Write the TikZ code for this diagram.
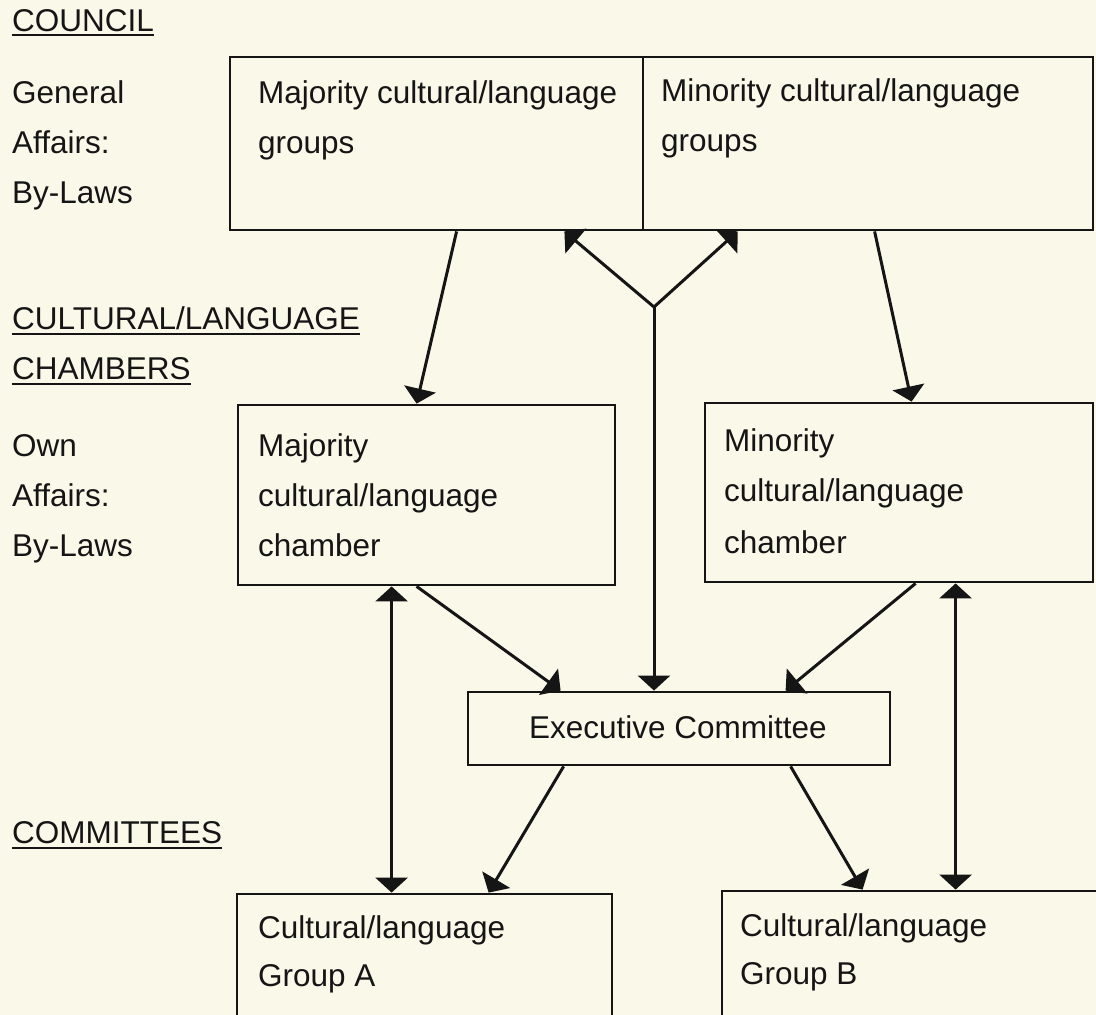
\documentclass[tikz,border=0pt]{standalone}
\usepackage{fontspec}
\setmainfont{Liberation Sans}
\usetikzlibrary{arrows.meta}
\definecolor{paper}{HTML}{FAF8E8}
\definecolor{ink}{HTML}{151515}
\begin{document}
\begin{tikzpicture}[x=1pt,y=-1pt,
  box/.style={draw=ink, line width=2.8pt, inner sep=0pt, rectangle},
  txt/.style={anchor=base west, inner sep=0pt, text=ink, font=\fontsize{31.5}{31.5}\selectfont},
  ctxt/.style={anchor=base, inner sep=0pt, text=ink, font=\fontsize{31.5}{31.5}\selectfont},
  uline/.style={draw=ink, line width=2.4pt},
  con/.style={draw=ink, line width=3pt, -{Triangle[length=15pt,width=32pt]}},
  dcon/.style={draw=ink, line width=3pt, {Triangle[length=15pt,width=32pt]}-{Triangle[length=15pt,width=32pt]}}]
\fill[paper] (0,0) rectangle (1096,1015);
\useasboundingbox (0,0) rectangle (1096,1015);
\clip (0,0) rectangle (1096,1015);

% boxes
\node[box, minimum width=413pt, minimum height=173pt] (topL) at (436.5,143.5) {};
\node[box, minimum width=450pt, minimum height=173pt] (topR) at (868,143.5) {};
\node[box, minimum width=377pt, minimum height=180pt] (midL) at (426.5,495) {};
\node[box, minimum width=388pt, minimum height=179pt] (midR) at (899,492.5) {};
\node[box, minimum width=422pt, minimum height=73pt] (exec) at (679,728.5) {};
\node[box, minimum width=375pt, minimum height=146pt] (botL) at (424.5,967) {};
\node[box, minimum width=378pt, minimum height=149pt] (botR) at (911,965.5) {};

% left headings and labels
\node[txt] (hcouncil) at (12,31) {COUNCIL};
\draw[uline] ([yshift=-4pt]hcouncil.base west) -- ([yshift=-4pt]hcouncil.base east);
\node[txt] (lgen) at (12,103) {General};
\node[txt] (laff) at (12,153) {Affairs:};
\node[txt] (lby) at (12,203) {By-Laws};

\node[txt] (hcult) at (12,329) {CULTURAL/LANGUAGE};
\draw[uline] ([yshift=-5pt]hcult.base west) -- ([yshift=-5pt]hcult.base east);
\node[txt] (hcham) at (12,379) {CHAMBERS};
\draw[uline] ([yshift=-5pt]hcham.base west) -- ([yshift=-5pt]hcham.base east);
\node[txt] (lown) at (12,456) {Own};
\node[txt] (laff2) at (12,506) {Affairs:};
\node[txt] (lby2) at (12,556) {By-Laws};

\node[txt] (hcomm) at (12,843) {COMMITTEES};
\draw[uline] ([yshift=-5pt]hcomm.base west) -- ([yshift=-5pt]hcomm.base east);

% box texts
\node[txt] (t1a) at (258,103) {Majority cultural/language};
\node[txt] (t1b) at (258,153) {groups};
\node[txt] (t2a) at (661,101) {Minority cultural/language};
\node[txt] (t2b) at (661,151) {groups};
\node[txt] (t3a) at (258,456) {Majority};
\node[txt] (t3b) at (258,506) {cultural/language};
\node[txt] (t3c) at (258,556) {chamber};
\node[txt] (t4a) at (724,451) {Minority};
\node[txt] (t4b) at (724,501) {cultural/language};
\node[txt] (t4c) at (724,553) {chamber};
\node[ctxt] (t5) at (678,738) {Executive Committee};
\node[txt] (t6a) at (258,938) {Cultural/language};
\node[txt] (t6b) at (258,986) {Group A};
\node[txt] (t7a) at (740,936) {Cultural/language};
\node[txt] (t7b) at (740,984) {Group B};

% connectors
\draw[con] ([xshift=228pt]topL.south west) -- ([xshift=180pt]midL.north west);
\draw[con] ([xshift=233pt]topR.south west) -- ([xshift=208pt]midR.north west);
\coordinate (jn) at (654,307);
\draw[con] (jn) -- (jn |- exec.north);
\draw[con] (jn) -- ([xshift=-80pt]topL.south east);
\draw[con] (jn) -- ([xshift=96pt]topR.south west);
\draw[con] ([xshift=180pt]midL.south west) -- ([xshift=94pt]exec.north west);
\draw[con] ([xshift=212pt]midR.south west) -- ([xshift=319pt]exec.north west);
\draw[dcon] ([xshift=155pt]midL.south west) -- ([xshift=156pt]botL.north west);
\draw[dcon] ([xshift=252pt]midR.south west) -- ([xshift=235pt]botR.north west);
\draw[con] ([xshift=97pt]exec.south west) -- ([xshift=253pt]botL.north west);
\draw[con] ([xshift=324pt]exec.south west) -- ([xshift=142pt]botR.north west);
\end{tikzpicture}
\end{document}
